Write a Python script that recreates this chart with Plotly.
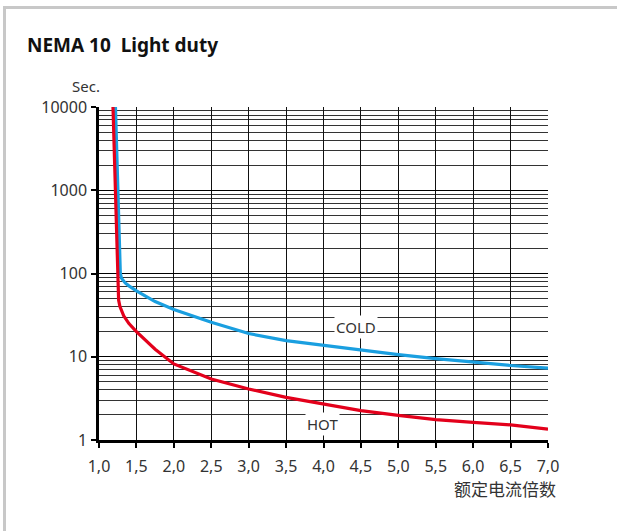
import plotly.graph_objects as go

# ---- data ----
cold_x = [1.22, 1.285, 1.30, 1.35, 1.40, 1.50, 1.75, 2.0, 2.5, 3.0, 3.5, 4.0, 4.5, 5.0, 5.5, 6.0, 6.5, 7.0]
cold_y = [10000, 100, 88, 77, 71, 62, 46, 37, 26, 19.0, 15.6, 13.7, 11.9, 10.6, 9.5, 8.6, 7.85, 7.3]
hot_x = [1.187, 1.262, 1.28, 1.33, 1.40, 1.50, 1.75, 2.0, 2.5, 3.0, 3.5, 4.0, 4.5, 5.0, 5.5, 6.0, 6.5, 7.0]
hot_y = [10000, 48, 40, 31, 25, 20, 12.3, 8.2, 5.4, 4.1, 3.25, 2.7, 2.25, 1.98, 1.76, 1.63, 1.52, 1.35]
x_ticks = [1.0, 1.5, 2.0, 2.5, 3.0, 3.5, 4.0, 4.5, 5.0, 5.5, 6.0, 6.5, 7.0]
x_tick_text = ["1,0", "1,5", "2,0", "2,5", "3,0", "3,5", "4,0", "4,5", "5,0", "5,5", "6,0", "6,5", "7,0"]
y_ticks = [1, 10, 100, 1000, 10000]
y_tick_text = ["1", "10", "100", "1000", "10000"]
y_minor = [m * 10 ** d for d in range(4) for m in range(2, 10)]

W, H = 617, 531
L, R, T, B = 99, 69, 107, 91
PW, PH = W - L - R, H - T - B


def px(x):
    return (x - L) / PW


def py(y):
    return (H - B - y) / PH


FONT = "Noto Sans, Open Sans, sans-serif"
TXT = "#333333"

fig = go.Figure()
fig.add_trace(go.Scatter(x=cold_x, y=cold_y, mode="lines",
                         line=dict(color="#1a9fe0", width=3.2), hoverinfo="skip", showlegend=False))
fig.add_trace(go.Scatter(x=hot_x, y=hot_y, mode="lines",
                         line=dict(color="#e3001b", width=3.2), hoverinfo="skip", showlegend=False))

fig.update_xaxes(range=[1.0, 7.0], tickvals=x_ticks, ticktext=x_tick_text,
                 showgrid=True, gridcolor="#111111", gridwidth=1,
                 showline=True, linecolor="#000000", linewidth=2.5,
                 ticks="outside", ticklen=5, tickwidth=1.5, tickcolor="#000000",
                 ticklabelstandoff=5,
                 tickfont=dict(family=FONT, size=16, color=TXT), zeroline=False,
                 fixedrange=True)
fig.update_yaxes(type="log", range=[0, 4], tickvals=y_ticks, ticktext=y_tick_text,
                 showgrid=True, gridcolor="#000000", gridwidth=1.2,
                 minor=dict(tickvals=y_minor, showgrid=True, gridcolor="#333333", gridwidth=1, ticks=""),
                 showline=True, linecolor="#000000", linewidth=2.5,
                 ticks="outside", ticklen=5, tickwidth=1.5, tickcolor="#000000",
                 ticklabelstandoff=1,
                 tickfont=dict(family=FONT, size=16, color=TXT), zeroline=False,
                 fixedrange=True)

annotations = [
    dict(text="<b>NEMA 10  Light duty</b>", xref="paper", yref="paper", x=px(25), y=py(45),
         xanchor="left", yanchor="middle", showarrow=False,
         font=dict(family=FONT, size=19, color="#111111")),
    dict(text="Sec.", xref="paper", yref="paper", x=px(86), y=py(86),
         xanchor="center", yanchor="middle", showarrow=False,
         font=dict(family=FONT, size=15, color=TXT)),
    dict(text="额定电流倍数", xref="paper", yref="paper", x=px(558), y=py(488),
         xanchor="right", yanchor="middle", showarrow=False,
         font=dict(family="Noto Sans CJK SC, sans-serif", size=17, color=TXT)),
    dict(text="COLD", x=4.44, y=1.353, xref="x", yref="y", showarrow=False,
         bgcolor="#ffffff", borderpad=1, xanchor="center", yanchor="middle",
         font=dict(family=FONT, size=15, color=TXT)),
    dict(text="HOT", x=3.98, y=0.196, xref="x", yref="y", showarrow=False,
         bgcolor="#ffffff", borderpad=1, xanchor="center", yanchor="middle",
         font=dict(family=FONT, size=15, color=TXT)),
]

shapes = [
    dict(type="line", xref="paper", yref="paper", x0=px(3), x1=px(W), y0=py(7.5), y1=py(7.5),
         line=dict(color="#c8c8c8", width=3), layer="above"),
    dict(type="line", xref="paper", yref="paper", x0=px(4.5), x1=px(4.5), y0=py(6), y1=py(H),
         line=dict(color="#c8c8c8", width=3), layer="above"),
]

fig.update_layout(width=W, height=H, margin=dict(l=L, r=R, t=T, b=B),
                  paper_bgcolor="#ffffff", plot_bgcolor="#ffffff",
                  annotations=annotations, shapes=shapes, showlegend=False)

fig.write_html("out.html", config={"displayModeBar": False},
               post_script=("document.body.style.margin='0';"
                            "document.body.style.overflow='hidden';"
                            "document.documentElement.style.overflow='hidden';"))
